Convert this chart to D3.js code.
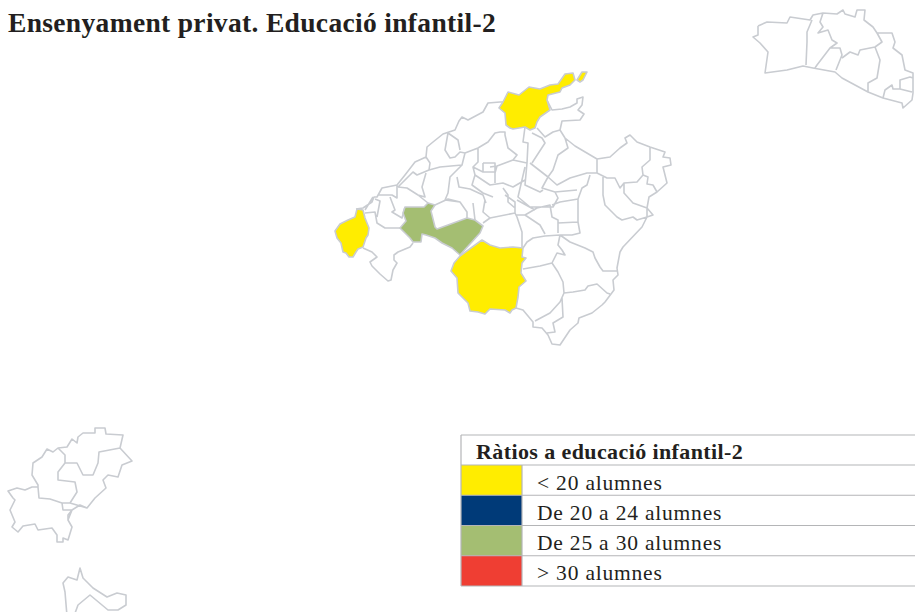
<!DOCTYPE html>
<html>
<head>
<meta charset="utf-8">
<script src="https://cdn.jsdelivr.net/npm/d3@7"></script>
<style>
  html, body { margin: 0; padding: 0; background: #fff; overflow: hidden; }
  text { font-family: "Liberation Serif", serif; fill: #231f20; }
</style>
</head>
<body>
<script>
const chartTitle = "Ensenyament privat. Educació infantil-2";
const legendTitle = "Ràtios a educació infantil-2";

// ratio classes
const ratioLabels = ["< 20 alumnes", "De 20 a 24 alumnes", "De 25 a 30 alumnes", "> 30 alumnes"];
const ratioColors = ["#ffed00", "#003a78", "#a4be72", "#ef3e33"];

// municipalities that have a value (class index into ratioLabels), outlines in map units
const shadedAreas = [
  { ratioClass: 0, rings: [[[357,209],[363,210],[365,218],[369,228],[368,235],[366,238],[363,247],[358,249],[356,252],[353,257],[349,257],[346,253],[343,252],[341,243],[337,238],[335,231],[340,224],[348,220],[355,217]]] },
  { ratioClass: 0, rings: [
    [[499,108],[503,102],[508,92],[519,95],[529,87],[540,89],[550,85],[558,84],[565,74],[573,73],[575,80],[570,85],[562,88],[560,92],[548,95],[547,100],[550,110],[540,117],[537,122],[535,128],[530,130],[525,127],[513,129],[510,128],[506,125],[505,113]],
    [[577,80],[582,72],[587,72],[583,80],[580,82]]
  ] },
  { ratioClass: 0, rings: [[[482,240],[490,245],[500,248],[513,247],[523,248],[522,257],[526,258],[522,263],[521,273],[526,281],[519,287],[518,297],[516,308],[512,310],[510,313],[505,310],[490,309],[485,314],[478,312],[470,311],[468,303],[458,293],[457,278],[451,271],[454,263],[460,256]]] },
  { ratioClass: 2, rings: [[[405,207],[415,207],[424,207],[428,203],[435,205],[431,211],[435,227],[437,229],[448,225],[467,218],[475,220],[483,226],[480,233],[460,255],[452,248],[442,243],[435,238],[426,235],[422,234],[421,242],[413,242],[410,238],[400,228],[406,221],[403,213]]] }
];

// coast and municipal borders of the other areas, map units
const mallorcaBorders = [
  [[356,209],[363,208],[372,202],[374,197],[377,197],[382,188],[397,185],[405,175],[415,162],[426,157],[427,147],[433,142],[443,134],[455,130],[459,121],[462,117],[468,120],[483,112],[488,103],[500,102],[503,102]],
  [[547,100],[552,110],[562,109],[570,107],[577,103],[577,99],[583,97],[582,105],[578,110],[584,114],[580,120],[562,121],[560,130],[565,138],[575,146],[597,159],[610,157],[620,148],[627,143],[625,138],[630,135],[637,142],[650,147],[665,152],[663,157],[670,158],[671,165],[663,167],[667,183],[657,192],[649,197],[647,208],[653,215],[647,217],[642,227],[623,247],[620,252],[617,268],[618,275],[613,280],[614,290],[605,302],[602,305],[592,313],[579,318],[578,323],[570,330],[560,345],[552,344],[548,335],[542,328],[533,327],[533,322],[523,310],[516,308]],
  [[650,147],[650,160],[642,167],[643,175],[648,177],[647,184],[653,185],[657,192]],
  [[597,159],[597,173],[607,178],[615,178],[620,188],[624,183],[637,182],[643,175]],
  [[624,183],[624,193],[633,203],[647,208]],
  [[603,177],[603,195],[605,205],[617,217],[622,220],[633,217],[637,220],[647,217],[647,208]],
  [[590,175],[587,185],[582,188],[578,199],[578,222],[580,233],[572,235],[560,235]],
  [[560,235],[570,242],[585,248],[593,252],[595,258],[600,267],[603,271],[617,271]],
  [[560,235],[558,245],[562,250],[565,255],[557,253],[552,263],[558,272],[563,282],[564,293],[573,292],[585,290],[588,286],[597,284],[607,293],[610,294]],
  [[552,263],[540,266],[523,269]],
  [[564,293],[560,302],[550,313],[535,321]],
  [[562,298],[563,317],[553,323],[555,332],[547,333]],
  [[523,248],[527,242],[533,238],[545,236],[560,235]],
  [[483,223],[490,218],[515,213],[517,217],[522,232],[522,247]],
  [[516,215],[525,215],[540,225],[545,234]],
  [[525,215],[537,208],[550,205],[552,217],[558,220],[558,233]],
  [[558,223],[578,222]],
  [[552,205],[560,202],[578,199]],
  [[515,213],[515,202],[505,195]],
  [[517,200],[535,210]],
  [[365,213],[375,212],[377,223],[385,228],[400,228]],
  [[413,243],[410,247],[398,252],[394,255],[394,260],[397,263],[393,270],[391,280],[388,281],[380,274],[372,266],[370,262],[377,257],[372,252],[363,248]],
  [[435,205],[448,199],[460,202],[467,212],[467,218]],
  [[473,203],[475,220]],
  [[485,200],[483,212],[490,218]],
  [[373,197],[365,210]],
  [[375,199],[380,201],[377,217]],
  [[390,197],[395,210],[392,212],[402,218],[405,207]],
  [[397,185],[397,198],[392,195],[378,195]],
  [[426,157],[430,163],[429,170],[440,167],[462,165],[465,153],[460,152],[455,157],[450,158],[445,150],[448,133],[458,140],[460,150]],
  [[398,187],[413,172],[417,175],[429,170]],
  [[426,173],[422,187],[425,197],[418,195],[407,188],[398,187]],
  [[418,195],[428,203]],
  [[465,153],[478,148],[488,142],[495,133],[500,132],[505,132],[505,135],[508,148],[517,155],[513,160],[497,166],[490,167]],
  [[478,148],[478,162],[473,167],[475,175],[472,185],[483,193],[493,197]],
  [[462,165],[450,177],[448,193],[445,200],[460,202]],
  [[457,177],[459,187],[470,189],[483,195],[486,203]],
  [[483,163],[495,163],[495,172],[483,172],[483,163]],
  [[473,167],[483,172]],
  [[495,183],[495,173],[497,166]],
  [[525,127],[523,142],[528,143],[527,163]],
  [[537,128],[545,137],[553,132],[560,130]],
  [[532,133],[542,138],[545,143],[532,163]],
  [[565,138],[568,148],[558,155],[553,170],[548,177],[530,163]],
  [[548,177],[557,185],[570,178],[587,173],[597,173]],
  [[548,177],[542,188],[555,192],[577,190]],
  [[527,163],[525,185],[540,192],[543,190]],
  [[525,167],[518,197],[530,207],[553,207],[558,198],[555,192]],
  [[525,180],[513,187],[503,183],[490,185],[475,175]],
  [[503,188],[508,195],[508,202],[515,208]],
  [[513,160],[527,163]]
];

const menorcaBorders = [
  [[758,26],[767,22],[787,23],[790,17],[810,20],[813,15],[823,13],[837,14],[843,10],[845,14],[855,17],[857,10],[865,10],[864,20],[873,27],[877,33],[892,33],[895,42],[893,48],[902,55],[905,70],[913,73],[913,93],[912,100],[903,108],[902,103],[883,98],[868,92],[855,85],[842,78],[835,72],[813,68],[803,66],[787,70],[765,73],[768,52],[760,43],[753,37],[758,35],[758,26]],
  [[812,20],[807,32],[807,42],[806,65]],
  [[823,13],[820,22],[823,27],[818,33],[828,30],[832,40],[837,43],[830,48],[817,65],[815,68]],
  [[830,48],[840,48],[842,55],[836,70]],
  [[842,58],[850,52],[858,55],[860,50],[875,47],[880,60],[877,78],[868,83],[868,92]],
  [[875,47],[882,42],[877,33]],
  [[883,98],[885,90],[892,85],[893,89],[900,89],[900,80],[910,77],[913,78]],
  [[900,89],[912,92]]
];

const ibizaBorders = [
  [[38,487],[32,487],[25,490],[17,488],[8,491],[13,498],[15,500],[10,510],[15,522],[12,527],[18,532],[23,526],[35,524],[38,530],[52,528],[57,535],[57,542],[63,542],[63,538],[68,540],[72,527],[68,520],[72,510],[80,505],[87,508],[95,498],[106,488],[103,480],[108,475],[118,477],[122,465],[132,461],[120,448],[123,435],[106,434],[105,428],[95,428],[95,433],[83,433],[78,437],[77,443],[72,439],[67,447],[58,448],[53,452],[47,449],[42,457],[33,463],[32,475],[38,485],[38,487]],
  [[38,487],[39,498],[50,499],[62,503],[70,503],[77,492],[75,482],[58,480],[58,472],[65,463],[65,455],[58,448]],
  [[65,463],[77,463],[83,475],[93,475],[98,463],[99,452],[120,448]],
  [[70,503],[87,508]],
  [[62,503],[63,510],[72,510],[68,515],[68,520]]
];

const formenteraBorders = [
  [[67,616],[65,592],[63,583],[68,577],[77,580],[80,568],[83,578],[93,588],[107,597],[117,593],[126,595],[126,605],[118,610],[108,610],[90,595],[78,605],[74,616]]
];

const width = 915;
const height = 612;
const borderColor = "#c9ccd1";

const svg = d3.select("body").append("svg")
  .attr("width", width)
  .attr("height", height);

svg.append("text")
  .attr("id", "title")
  .attr("x", 8)
  .attr("y", 32)
  .attr("font-size", 27.5)
  .attr("font-weight", "bold")
  .style("letter-spacing", "0.33px")
  .text(chartTitle);

/** Map */
const path = d3.geoPath(d3.geoIdentity());
const colorScale = d3.scaleOrdinal().domain(d3.range(ratioLabels.length)).range(ratioColors);

const map = svg.append("g").attr("id", "map");

map.append("path")
  .datum({ type: "MultiLineString", coordinates: [...mallorcaBorders, ...menorcaBorders, ...ibizaBorders, ...formenteraBorders] })
  .attr("d", path)
  .attr("fill", "none")
  .attr("stroke", borderColor)
  .attr("stroke-width", 1.6)
  .attr("stroke-linejoin", "round");

map.selectAll("path.area")
  .data(shadedAreas)
  .enter()
  .append("path")
  .attr("class", "area")
  .attr("d", d => path({ type: "MultiPolygon", coordinates: d.rings.map(r => [[...r, r[0]]]) }))
  .attr("fill", d => colorScale(d.ratioClass))
  .attr("stroke", borderColor)
  .attr("stroke-width", 1.6)
  .attr("stroke-linejoin", "round");

/** Legend */
const legendProps = { left: 461, swatch: 522, right: 915, top: 435, head: 465, bottom: 586, textX: 537 };
const legendRow = d3.scaleBand()
  .domain(d3.range(ratioLabels.length))
  .range([legendProps.head, legendProps.bottom]);

const legend = svg.append("g").attr("id", "legend");

legend.append("text")
  .attr("x", 476)
  .attr("y", 459)
  .attr("font-size", 22)
  .attr("font-weight", "bold")
  .style("letter-spacing", "0.4px")
  .text(legendTitle);

legend.selectAll("rect")
  .data(ratioColors)
  .enter()
  .append("rect")
  .attr("x", legendProps.left)
  .attr("y", (d, i) => legendRow(i))
  .attr("width", legendProps.swatch - legendProps.left)
  .attr("height", legendRow.bandwidth())
  .attr("fill", d => d);

legend.selectAll("text.label")
  .data(ratioLabels)
  .enter()
  .append("text")
  .attr("class", "label")
  .attr("x", legendProps.textX)
  .attr("y", (d, i) => legendRow(i) + 24.5)
  .attr("font-size", 21.5)
  .style("letter-spacing", "0.8px")
  .text(d => d);

// table rules
const ruleYs = [legendProps.top, ...d3.range(ratioLabels.length + 1).map(i => legendProps.head + i * legendRow.bandwidth())];
legend.selectAll("line.rule")
  .data(ruleYs)
  .enter()
  .append("line")
  .attr("class", "rule")
  .attr("x1", legendProps.left)
  .attr("x2", legendProps.right)
  .attr("y1", d => d)
  .attr("y2", d => d)
  .attr("stroke", "#b4b5b7")
  .attr("stroke-width", 1.2);

legend.append("line")
  .attr("x1", legendProps.left).attr("x2", legendProps.left)
  .attr("y1", legendProps.top).attr("y2", legendProps.bottom)
  .attr("stroke", "#b4b5b7").attr("stroke-width", 1.2);

legend.append("line")
  .attr("x1", legendProps.swatch).attr("x2", legendProps.swatch)
  .attr("y1", legendProps.head).attr("y2", legendProps.bottom)
  .attr("stroke", "#b4b5b7").attr("stroke-width", 1.2);
</script>
</body>
</html>
